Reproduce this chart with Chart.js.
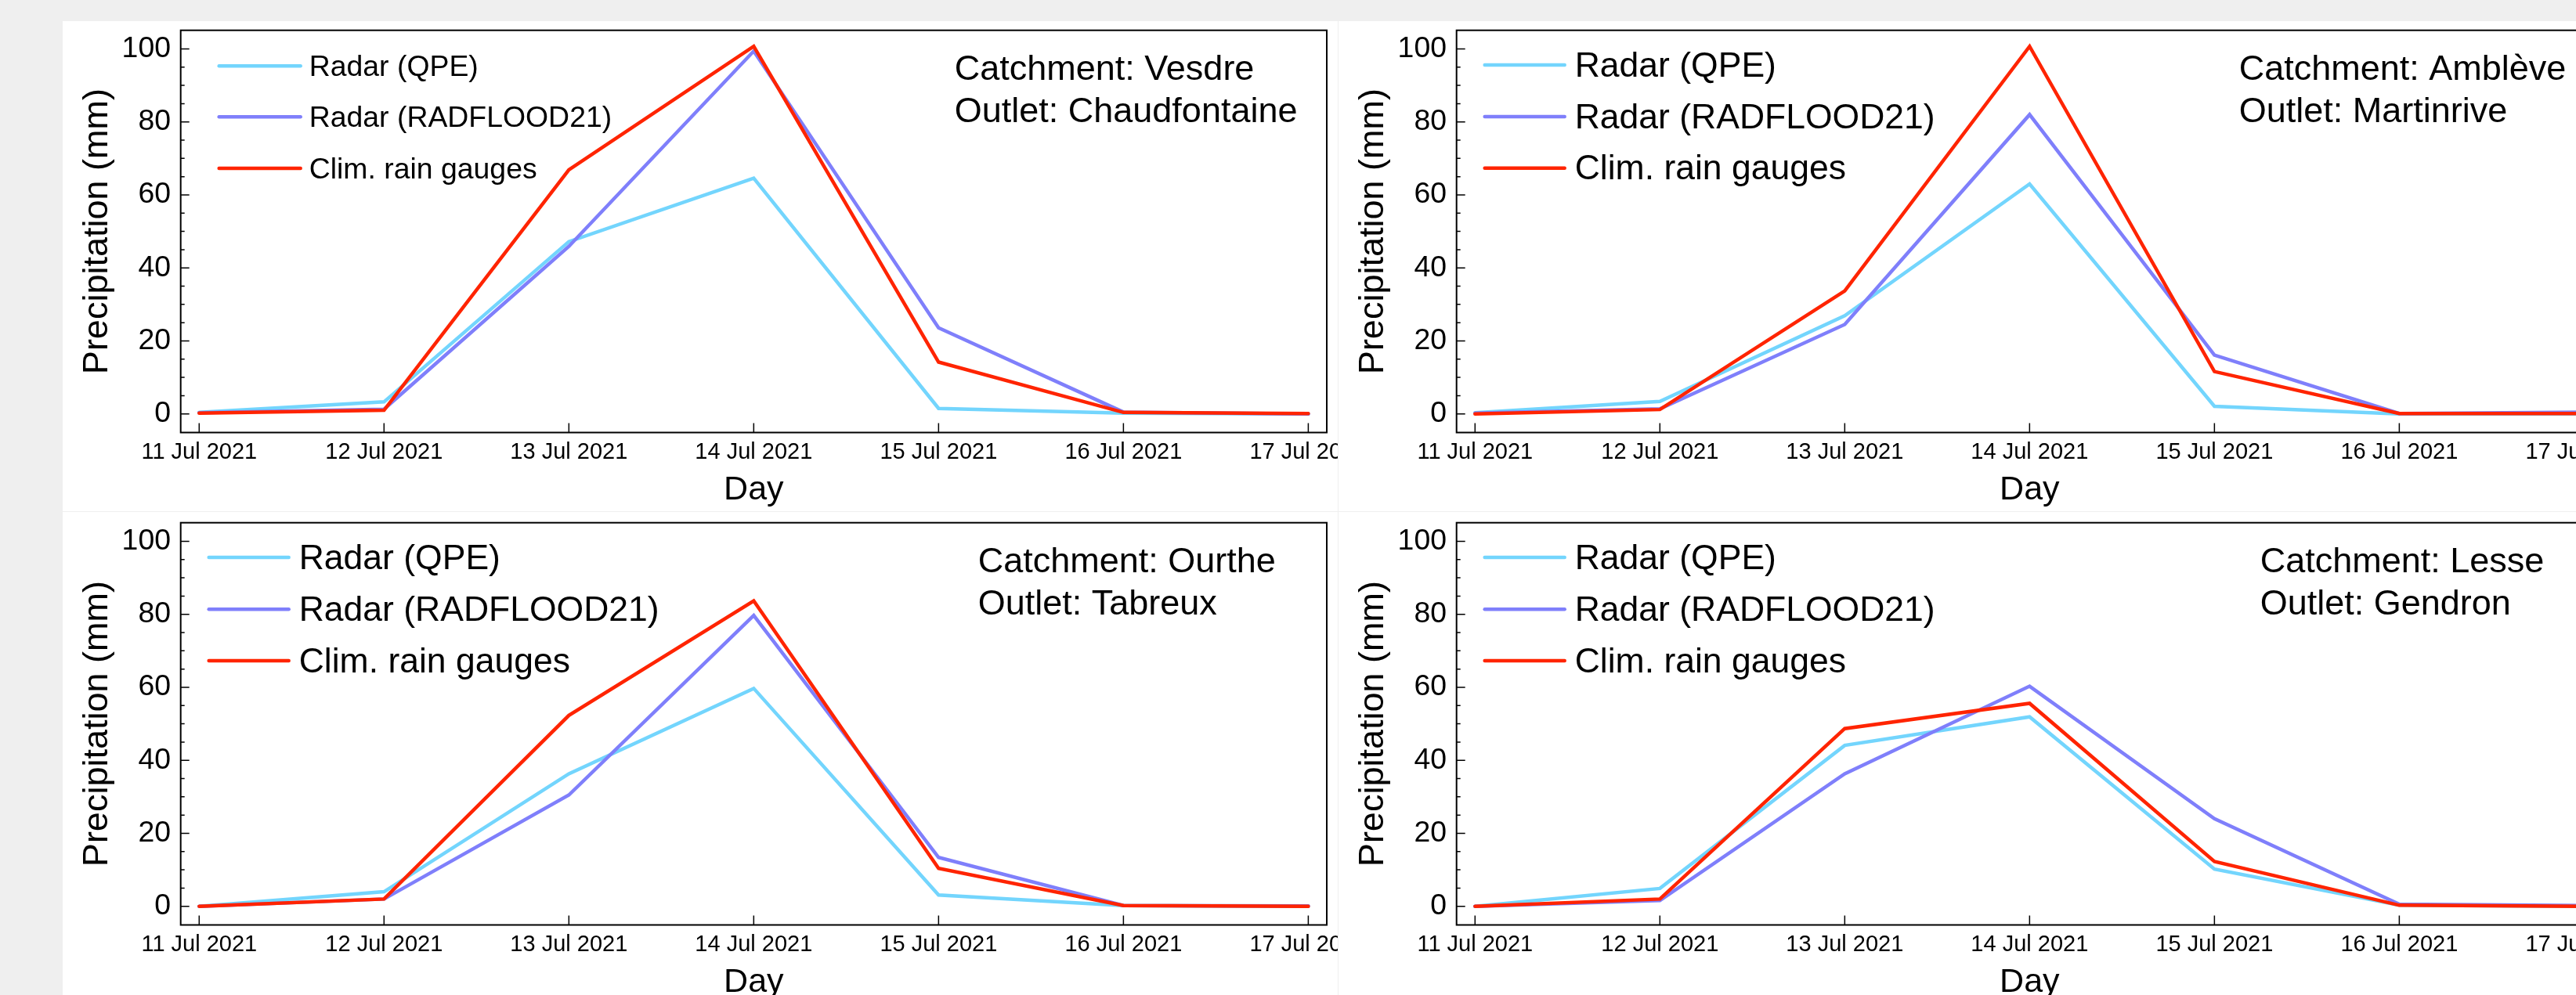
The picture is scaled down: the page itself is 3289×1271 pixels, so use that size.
<!DOCTYPE html>
<html>
<head>
<meta charset="utf-8">
<title>Precipitation 11-17 Jul 2021</title>
<script src="https://cdn.jsdelivr.net/npm/chart.js@4.4.1/dist/chart.umd.min.js"></script>
<style>
  html, body { margin: 0; padding: 0; background: #efefef; overflow: hidden; width: 3289px; height: 1271px; }
  .panel { position: absolute; background: #fff; overflow: hidden; }
</style>
</head>
<body>
<div class="panel" style="left:80px;top:27px;width:1628px;height:626px"><canvas id="vesdre"></canvas></div>
<div class="panel" style="left:1709px;top:27px;width:1628px;height:626px"><canvas id="ambleve"></canvas></div>
<div class="panel" style="left:80px;top:654px;width:1628px;height:628px"><canvas id="ourthe"></canvas></div>
<div class="panel" style="left:1709px;top:654px;width:1628px;height:628px"><canvas id="lesse"></canvas></div>

<script>
var FONT = '"Liberation Sans", Arial, Helvetica, sans-serif';

// x categories and y ticks
var days = ['11 Jul 2021', '12 Jul 2021', '13 Jul 2021', '14 Jul 2021', '15 Jul 2021', '16 Jul 2021', '17 Jul 2021'];
var yTicks = [0, 20, 40, 60, 80, 100];

var seriesNames = ['Radar (QPE)', 'Radar (RADFLOOD21)', 'Clim. rain gauges'];
var seriesColors = ['#73d5fd', '#7f7ffb', '#ff2400'];

// daily precipitation (mm), one array per catchment and source
var vesdreQPE    = [0.4, 3.3, 47.2, 64.6, 1.5, 0.2, 0.0];
var vesdreRad    = [0.3, 1.3, 45.9, 99.4, 23.6, 0.5, 0.0];
var vesdreGauges = [0.2, 1.0, 66.9, 100.7, 14.2, 0.4, 0.1];

var ambleveQPE    = [0.3, 3.4, 26.9, 63.0, 2.1, 0.0, 0.0];
var ambleveRad    = [0.2, 1.4, 24.5, 82.0, 16.1, 0.1, 0.5];
var ambleveGauges = [0.0, 1.2, 33.7, 100.7, 11.6, 0.1, 0.1];

var ourtheQPE    = [0.0, 4.0, 36.3, 59.7, 3.1, 0.2, 0.0];
var ourtheRad    = [0.0, 2.0, 30.5, 79.7, 13.4, 0.2, 0.1];
var ourtheGauges = [0.0, 2.0, 52.3, 83.7, 10.4, 0.2, 0.0];

var lesseQPE    = [0.0, 4.9, 44.1, 51.9, 10.2, 0.3, 0.0];
var lesseRad    = [0.0, 1.6, 36.3, 60.3, 24.0, 0.6, 0.2];
var lesseGauges = [0.0, 2.0, 48.7, 55.6, 12.3, 0.3, 0.0];

var panels = [
  { id: 'vesdre',  catchment: 'Vesdre',  outlet: 'Chaudfontaine', series: [vesdreQPE, vesdreRad, vesdreGauges] },
  { id: 'ambleve', catchment: 'Amblève', outlet: 'Martinrive',    series: [ambleveQPE, ambleveRad, ambleveGauges] },
  { id: 'ourthe',  catchment: 'Ourthe',  outlet: 'Tabreux',       series: [ourtheQPE, ourtheRad, ourtheGauges] },
  { id: 'lesse',   catchment: 'Lesse',   outlet: 'Gendron',       series: [lesseQPE, lesseRad, lesseGauges] }
];

// layout of each panel (pixels, relative to plot area)
var looks = {
  vesdre:  { h: 626, top: 11.7, key: { size: 37.4, x0: 49, x1: 153, tx: 164, rows: [45.6, 110.6, 176.3] }, noteX: 988 },
  ambleve: { h: 626, top: 11.7, key: { size: 44.5, x0: 36, x1: 138, tx: 151, rows: [44.4, 110.2, 176] }, noteX: 999 },
  ourthe:  { h: 628, top: 13.7, key: { size: 44.5, x0: 36, x1: 138, tx: 151, rows: [44.4, 110.6, 176.4] }, noteX: 1018 },
  lesse:   { h: 628, top: 13.7, key: { size: 44.5, x0: 36, x1: 138, tx: 151, rows: [44.4, 110.6, 176.4] }, noteX: 1026 }
};

// box round the plot + inside ticks
var framePlugin = {
  id: 'frame',
  afterDraw: function(chart) {
    var a = chart.chartArea, ctx = chart.ctx;
    var xs = chart.scales.x, ys = chart.scales.y;
    ctx.save();
    ctx.strokeStyle = '#000';
    ctx.lineWidth = 1.5;
    ctx.beginPath();
    for (var v = 0; v <= 100; v += 5) {
      var py = ys.getPixelForValue(v);
      ctx.moveTo(a.left, py);
      ctx.lineTo(a.left + (v % 20 === 0 ? 11 : 5), py);
    }
    days.forEach(function(d, i) {
      var px = xs.getPixelForValue(i);
      ctx.moveTo(px, a.bottom);
      ctx.lineTo(px, a.bottom - 12);
    });
    ctx.stroke();
    ctx.lineWidth = 2;
    ctx.strokeRect(a.left, a.top, a.right - a.left, a.bottom - a.top);
    ctx.restore();
  }
};

// legend in the upper left corner
var keyPlugin = {
  id: 'seriesKey',
  afterDraw: function(chart) {
    var k = looks[chart.canvas.id].key;
    var a = chart.chartArea, ctx = chart.ctx;
    ctx.save();
    ctx.font = k.size + 'px ' + FONT;
    ctx.textBaseline = 'middle';
    ctx.lineCap = 'round';
    chart.data.datasets.forEach(function(ds, i) {
      var ry = a.top + k.rows[i];
      ctx.strokeStyle = ds.borderColor;
      ctx.lineWidth = 4.5;
      ctx.beginPath();
      ctx.moveTo(a.left + k.x0, ry);
      ctx.lineTo(a.left + k.x1, ry);
      ctx.stroke();
      ctx.fillStyle = '#000';
      ctx.fillText(ds.label, a.left + k.tx, ry + 2.5);
    });
    ctx.restore();
  }
};

// catchment / outlet note, upper right
var notePlugin = {
  id: 'note',
  afterDraw: function(chart) {
    var p = panels.filter(function(q) { return q.id === chart.canvas.id; })[0];
    var a = chart.chartArea, ctx = chart.ctx;
    var nx = a.left + looks[p.id].noteX;
    ctx.save();
    ctx.font = '45px ' + FONT;
    ctx.fillStyle = '#000';
    ctx.textBaseline = 'alphabetic';
    ctx.fillText('Catchment: ' + p.catchment, nx, a.top + 63.5);
    ctx.fillText('Outlet: ' + p.outlet, nx, a.top + 116.8);
    ctx.restore();
  }
};

function makeChart(p) {
  var look = looks[p.id];
  var canvas = document.getElementById(p.id);
  canvas.width = 1628;
  canvas.height = look.h;

  return new Chart(canvas, {
    type: 'line',
    data: {
      datasets: p.series.map(function(vals, k) {
        return {
          label: seriesNames[k],
          data: vals.map(function(v, i) { return { x: i, y: v }; }),
          borderColor: seriesColors[k],
          backgroundColor: seriesColors[k],
          borderWidth: 4.5,
          borderCapStyle: 'round',
          pointRadius: 0,
          tension: 0,
          order: 2 - k
        };
      })
    },
    options: {
      responsive: false,
      animation: false,
      devicePixelRatio: 1,
      events: [],
      layout: { padding: { left: 0, top: look.top, right: 14, bottom: 0 } },
      plugins: { legend: { display: false }, tooltip: { enabled: false } },
      scales: {
        x: {
          type: 'linear',
          min: -0.1,
          max: 6.1,
          grid: { display: false, drawTicks: false },
          border: { display: false },
          afterBuildTicks: function(s) {
            s.ticks = days.map(function(d, i) { return { value: i }; });
          },
          afterFit: function(s) {
            s.height = 100.5;
            s.paddingLeft = 0;
            s.paddingRight = 0;
          },
          ticks: {
            autoSkip: false,
            maxRotation: 0,
            padding: 10.8,
            color: '#000',
            font: { family: FONT, size: 29, lineHeight: 1 },
            callback: function(v) { return days[v]; }
          },
          title: {
            display: true,
            text: 'Day',
            color: '#000',
            font: { family: FONT, size: 43, lineHeight: 1 },
            padding: { top: 0, bottom: 5.8 }
          }
        },
        y: {
          min: -5.1,
          max: 105.1,
          grid: { display: false, drawTicks: false },
          border: { display: false },
          afterBuildTicks: function(s) {
            s.ticks = yTicks.map(function(v) { return { value: v }; });
          },
          afterFit: function(s) {
            s.width = 150.7;
            s.paddingTop = 0;
            s.paddingBottom = 0;
          },
          ticks: {
            padding: 12.7,
            color: '#000',
            font: { family: FONT, size: 37.4, lineHeight: 1 }
          },
          title: {
            display: true,
            text: 'Precipitation (mm)',
            color: '#000',
            font: { family: FONT, size: 45, lineHeight: 1 },
            padding: { top: 21.7, bottom: 0 }
          }
        }
      }
    },
    plugins: [framePlugin, keyPlugin, notePlugin]
  });
}

panels.forEach(makeChart);
</script>
</body>
</html>
